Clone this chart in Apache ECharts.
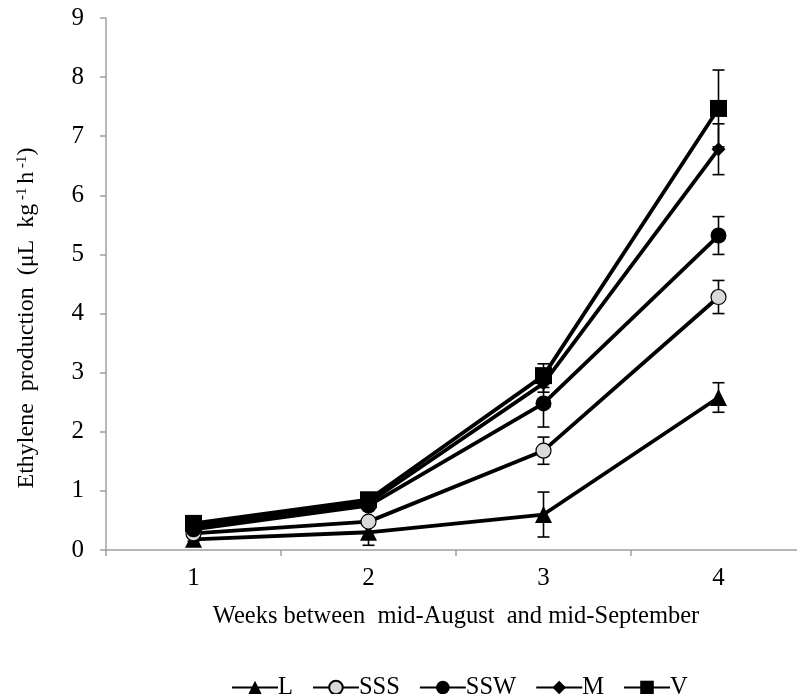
<!DOCTYPE html>
<html>
<head>
<meta charset="utf-8">
<script src="https://cdn.jsdelivr.net/npm/echarts@6/dist/echarts.min.js"></script>
<style>html,body{margin:0;padding:0;background:#fff;}#c{width:797px;height:694px;}</style>
</head>
<body>
<div id="c"></div>
<script>
var weeks = ['1', '2', '3', '4'];
var yTicks = [0, 1, 2, 3, 4, 5, 6, 7, 8, 9];
var seriesNames = ['L', 'SSS', 'SSW', 'M', 'V'];
var L_vals   = [0.18, 0.30, 0.60, 2.58];
var L_err    = [0.03, 0.22, 0.38, 0.25];
var SSS_vals = [0.28, 0.48, 1.68, 4.28];
var SSS_err  = [0.03, 0.05, 0.23, 0.28];
var SSW_vals = [0.35, 0.75, 2.48, 5.32];
var SSW_err  = [0.03, 0.05, 0.40, 0.32];
var M_vals   = [0.40, 0.80, 2.82, 6.78];
var M_err    = [0.03, 0.05, 0.15, 0.43];
var V_vals   = [0.45, 0.85, 2.95, 7.47];
var V_err    = [0.05, 0.05, 0.20, 0.65];

var vals = [L_vals, SSS_vals, SSW_vals, M_vals, V_vals];
var errs = [L_err, SSS_err, SSW_err, M_err, V_err];
var symbols = ['triangle', 'circle', 'circle', 'diamond', 'rect'];
var symbolSizes = [17, 15, 16, 14, 17];
var fills = ['#000', '#d9d9d9', '#000', '#000', '#000'];

var FONT = '"Liberation Serif", "Times New Roman", serif';
var chart = echarts.init(document.getElementById('c'));

var series = [];
vals.forEach(function (v, si) {
  var data = v.map(function (y, i) { return [i, y - errs[si][i], y + errs[si][i]]; });
  series.push({
    type: 'custom',
    z: 1,
    silent: true,
    data: data,
    renderItem: function (params, api) {
      var lo = api.coord([api.value(0), api.value(1)]);
      var hi = api.coord([api.value(0), api.value(2)]);
      var hw = 6;
      var st = { stroke: '#000', lineWidth: 1.6 };
      return {
        type: 'group',
        children: [
          { type: 'line', shape: { x1: lo[0], y1: lo[1], x2: hi[0], y2: hi[1] }, style: st },
          { type: 'line', shape: { x1: lo[0] - hw, y1: lo[1], x2: lo[0] + hw, y2: lo[1] }, style: st },
          { type: 'line', shape: { x1: hi[0] - hw, y1: hi[1], x2: hi[0] + hw, y2: hi[1] }, style: st }
        ]
      };
    }
  });
});
vals.forEach(function (v, si) {
  series.push({
    name: seriesNames[si],
    type: 'line',
    z: 2,
    data: v,
    symbol: symbols[si],
    symbolSize: symbolSizes[si],
    showAllSymbol: true,
    lineStyle: { color: '#000', width: 3.8 },
    itemStyle: { color: fills[si], borderColor: '#000', borderWidth: si === 1 ? 1.2 : 0 },
    emphasis: { disabled: true },
    animation: false
  });
});

chart.setOption({
  animation: false,
  backgroundColor: '#fff',
  grid: { left: 106, top: 18, height: 532, width: 700, containLabel: false, outerBoundsMode: 'none' },
  xAxis: {
    type: 'category',
    data: weeks,
    boundaryGap: true,
    axisLine: { lineStyle: { color: '#a0a0a0', width: 1.5 } },
    axisTick: { show: true, length: 6, lineStyle: { color: '#a0a0a0', width: 1.5 } },
    axisLabel: { color: '#000', fontFamily: FONT, fontSize: 25, margin: 16 },
    name: 'Weeks between  mid-August  and mid-September',
    nameLocation: 'middle',
    nameGap: 54,
    nameTextStyle: { color: '#000', fontFamily: FONT, fontSize: 24.5 },
    splitLine: { show: false }
  },
  yAxis: {
    type: 'value',
    min: yTicks[0],
    max: yTicks[yTicks.length - 1],
    interval: 1,
    axisLine: { show: true, lineStyle: { color: '#a0a0a0', width: 1.5 } },
    axisTick: { show: true, length: 6, lineStyle: { color: '#a0a0a0', width: 1.5 } },
    axisLabel: { color: '#000', fontFamily: FONT, fontSize: 25, margin: 22 },
    splitLine: { show: false }
  },
  legend: {
    data: seriesNames,
    left: 226,
    top: 670,
    itemWidth: 46,
    itemHeight: 17,
    itemGap: 19,
    textStyle: { color: '#000', fontFamily: FONT, fontSize: 24.5, padding: [0, 0, 0, -5] }
  },
  graphic: [{
    type: 'text',
    x: 27,
    y: 318,
    rotation: Math.PI / 2,
    style: {
      text: '{n|Ethylene  production  (μL  kg}{s| -1 }{n|h}{s| -1}{n|)}',
      align: 'center',
      verticalAlign: 'middle',
      fill: '#000',
      rich: {
        n: { fontFamily: FONT, fontSize: 24, fill: '#000' },
        s: { fontFamily: FONT, fontSize: 15, fill: '#000', verticalAlign: 'top', padding: [0, 0, 10, 0] }
      }
    }
  }],
  series: series
});
</script>
</body>
</html>
